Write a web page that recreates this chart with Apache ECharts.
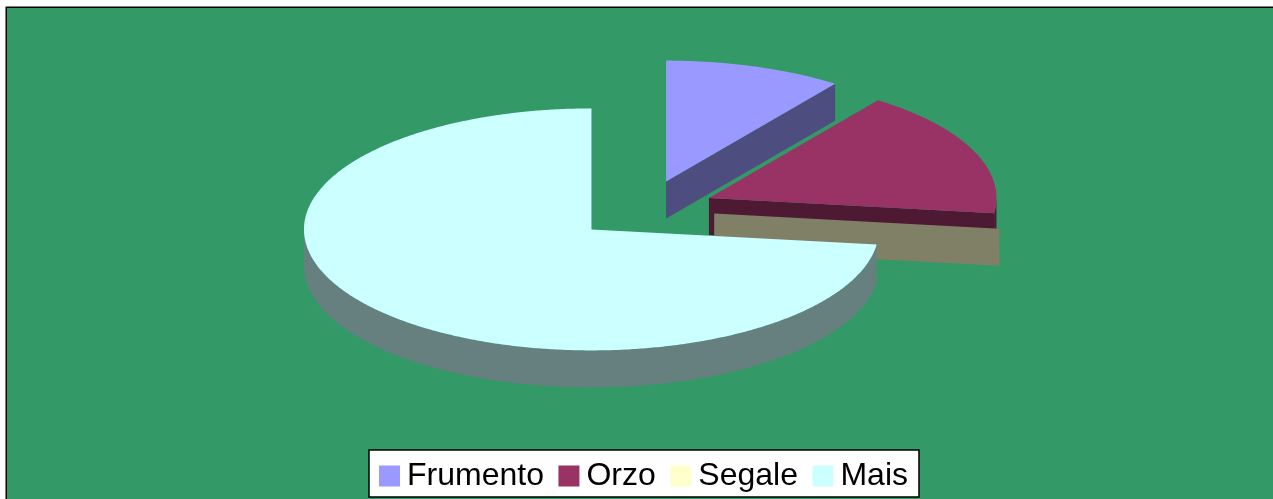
<!DOCTYPE html>
<html>
<head>
<meta charset="utf-8">
<style>html,body{margin:0;padding:0;background:#fff;overflow:hidden}#c{width:1273px;height:499px}</style>
<script src="https://cdn.jsdelivr.net/npm/echarts@6/dist/echarts.min.js"></script>
</head>
<body>
<div id="c"></div>
<script>
var categories = ['Frumento', 'Orzo', 'Segale', 'Mais'];
var values = [10, 17, 0, 73];
var topColors = ['#9999ff', '#993366', '#ffffcc', '#ccffff'];
var wallColors = ['#4d4d80', '#4d1933', '#808066', '#668080'];

var RX = 287.5, RY = 121, DEPTH = 37, CX = 644.3, CY = 209.8, EXPLODE = 0.245;
var total = values.reduce(function (a, b) { return a + b; }, 0);

function pt(c, deg, r) {
  var t = deg * Math.PI / 180;
  return [c[0] + Math.sin(t) * RX * (r === undefined ? 1 : r), c[1] - Math.cos(t) * RY * (r === undefined ? 1 : r)];
}
function arc(c, a, b) {
  var out = [], n = Math.max(1, Math.ceil(Math.abs(b - a) / 0.5));
  for (var i = 0; i <= n; i++) out.push(pt(c, a + (b - a) * i / n));
  return out;
}
function down(p) { return [p[0], p[1] + DEPTH]; }

function renderSlice(index) {
  return function (params, api) {
    var before = 0;
    for (var i = 0; i < index; i++) before += values[i];
    var v = api.value(0);
    var a0 = before / total * 360, a1 = (before + v) / total * 360, mid = (a0 + a1) / 2;
    var c = pt([CX, CY], mid, EXPLODE);
    var children = [];
    function poly(points, fill) {
      children.push({ type: 'polygon', shape: { points: points }, style: { fill: fill, stroke: null } });
    }
    var s = Math.sin(a1 * Math.PI / 180);
    if (s > 1e-6) {
      var e = pt(c, a1);
      poly([c, e, down(e), down(c)], wallColors[index]);
    }
    var s0 = Math.sin(a0 * Math.PI / 180);
    if (s0 < -1e-6) {
      var b = pt(c, a0);
      poly([c, b, down(b), down(c)], wallColors[index]);
    }
    var w0 = Math.max(a0, 90), w1 = Math.min(a1, 270);
    if (w1 > w0) {
      var top = arc(c, w0, w1);
      poly(top.concat(top.slice().reverse().map(down)), wallColors[index]);
    }
    if (v > 0) poly([c].concat(arc(c, a0, a1)), topColors[index]);
    return { type: 'group', children: children };
  };
}

var series = categories.map(function (name, i) {
  return {
    type: 'custom',
    name: name,
    coordinateSystem: 'none',
    z: i + 2,
    silent: true,
    animation: false,
    itemStyle: { color: topColors[i] },
    data: [[values[i]]],
    renderItem: renderSlice(i)
  };
});

var chart = echarts.init(document.getElementById('c'), null, { renderer: 'canvas', width: 1273, height: 499 });
chart.setOption({
  animation: false,
  backgroundColor: '#ffffff',
  tooltip: { show: false },
  graphic: [{
    type: 'rect', z: 0, silent: true,
    shape: { x: 6.25, y: 7.25, width: 1300, height: 520 },
    style: { fill: '#339966', stroke: '#000000', lineWidth: 1.5 }
  }],
  legend: {
    data: categories,
    left: 369,
    top: 450,
    orient: 'horizontal',
    icon: 'rect',
    itemWidth: 21,
    itemHeight: 21,
    itemGap: 14.5,
    padding: [10, 11, 5, 10],
    selectedMode: false,
    backgroundColor: '#ffffff',
    borderColor: '#000000',
    borderWidth: 1.5,
    borderRadius: 0,
    textStyle: { color: '#000000', fontFamily: '"Liberation Sans", Arial, sans-serif', fontSize: 32, padding: [0, 0, 0, 2] }
  },
  series: series
});
</script>
</body>
</html>
